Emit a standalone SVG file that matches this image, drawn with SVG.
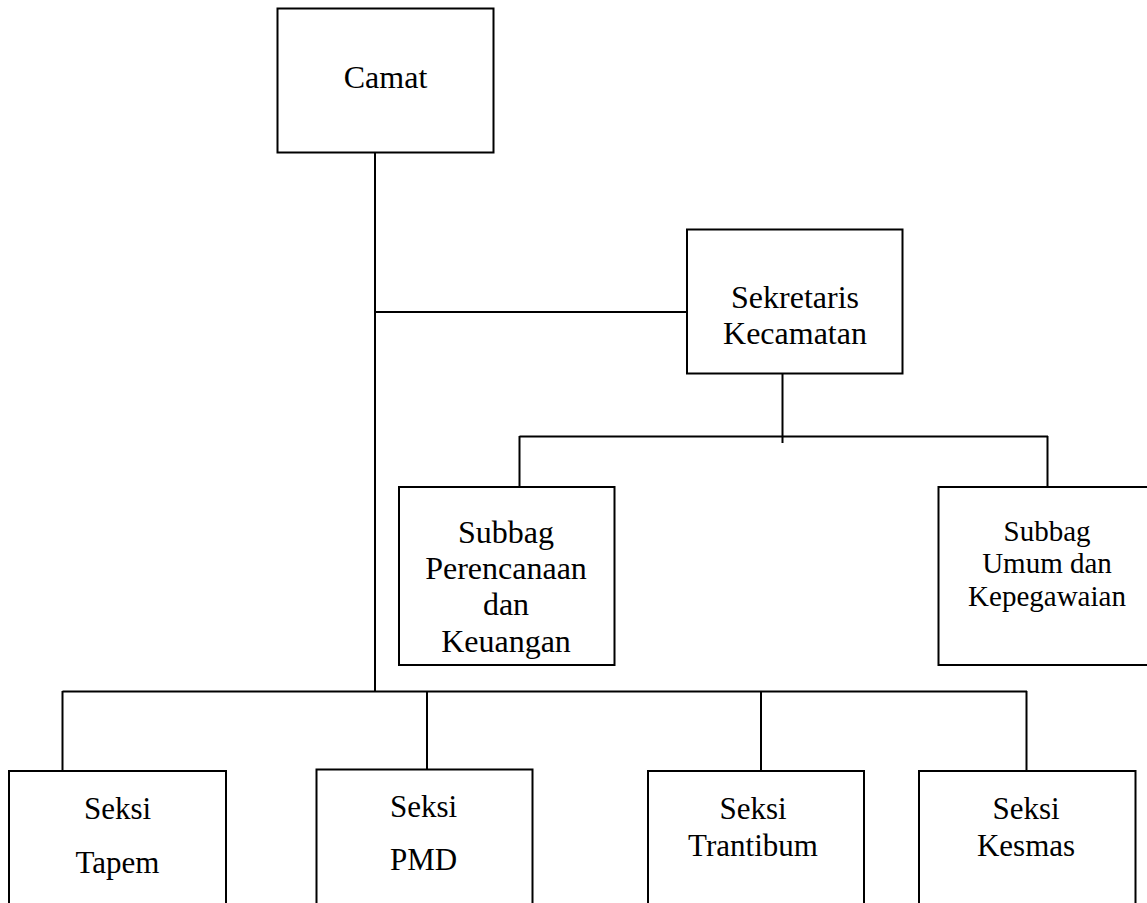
<svg xmlns="http://www.w3.org/2000/svg" width="1147" height="903" viewBox="0 0 1147 903">
<style>
.box{fill:#fff;stroke:#000;stroke-width:2}
.ln{fill:none;stroke:#000;stroke-width:2}
text{font-family:"Liberation Serif","Times New Roman",serif;fill:#000;text-anchor:middle}
.t32{font-size:32px}
.t31{font-size:31px}
.t29{font-size:29px}
</style>
<rect width="1147" height="903" fill="#fff"/>
<g id="connectors">
<line class="ln" x1="375" y1="152" x2="375" y2="692"/>
<line class="ln" x1="375" y1="312" x2="687" y2="312"/>
<line class="ln" x1="782.5" y1="373" x2="782.5" y2="443"/>
<line class="ln" x1="519.5" y1="436.5" x2="1048" y2="436.5"/>
<line class="ln" x1="519.5" y1="436" x2="519.5" y2="487"/>
<line class="ln" x1="1047.5" y1="436" x2="1047.5" y2="487"/>
<line class="ln" x1="62.5" y1="691.5" x2="1027" y2="691.5"/>
<line class="ln" x1="62.5" y1="691" x2="62.5" y2="771"/>
<line class="ln" x1="427" y1="691" x2="427" y2="770"/>
<line class="ln" x1="761" y1="691" x2="761" y2="771"/>
<line class="ln" x1="1026.5" y1="691" x2="1026.5" y2="771"/>
</g>
<g id="camat">
<rect class="box" x="277.5" y="8.5" width="216" height="144"/>
<text class="t32" x="385.5" y="88">Camat</text>
</g>
<g id="sekretaris">
<rect class="box" x="687" y="229.5" width="215.5" height="144"/>
<text class="t32" x="795" y="308">Sekretaris</text>
<text class="t32" x="795" y="344">Kecamatan</text>
</g>
<g id="subbag-perencanaan">
<rect class="box" x="399" y="487" width="215.5" height="178"/>
<text class="t32" x="506" y="543">Subbag</text>
<text class="t32" x="506" y="579">Perencanaan</text>
<text class="t32" x="506" y="615">dan</text>
<text class="t32" x="506" y="652">Keuangan</text>
</g>
<g id="subbag-umum">
<rect class="box" x="938.5" y="487" width="220" height="178"/>
<text class="t29" x="1047" y="541">Subbag</text>
<text class="t29" x="1047" y="573">Umum dan</text>
<text class="t29" x="1047" y="606">Kepegawaian</text>
</g>
<g id="seksi-tapem">
<rect class="box" x="9" y="771" width="217" height="140"/>
<text class="t31" x="117.5" y="819">Seksi</text>
<text class="t31" x="117.5" y="873">Tapem</text>
</g>
<g id="seksi-pmd">
<rect class="box" x="316.5" y="769.5" width="216" height="140"/>
<text class="t31" x="423.5" y="817">Seksi</text>
<text class="t31" x="423.5" y="870">PMD</text>
</g>
<g id="seksi-trantibum">
<rect class="box" x="648" y="771" width="216" height="140"/>
<text class="t31" x="753" y="819">Seksi</text>
<text class="t31" x="753" y="856">Trantibum</text>
</g>
<g id="seksi-kesmas">
<rect class="box" x="919" y="771" width="216.5" height="140"/>
<text class="t31" x="1026" y="819">Seksi</text>
<text class="t31" x="1026" y="856">Kesmas</text>
</g>
</svg>
